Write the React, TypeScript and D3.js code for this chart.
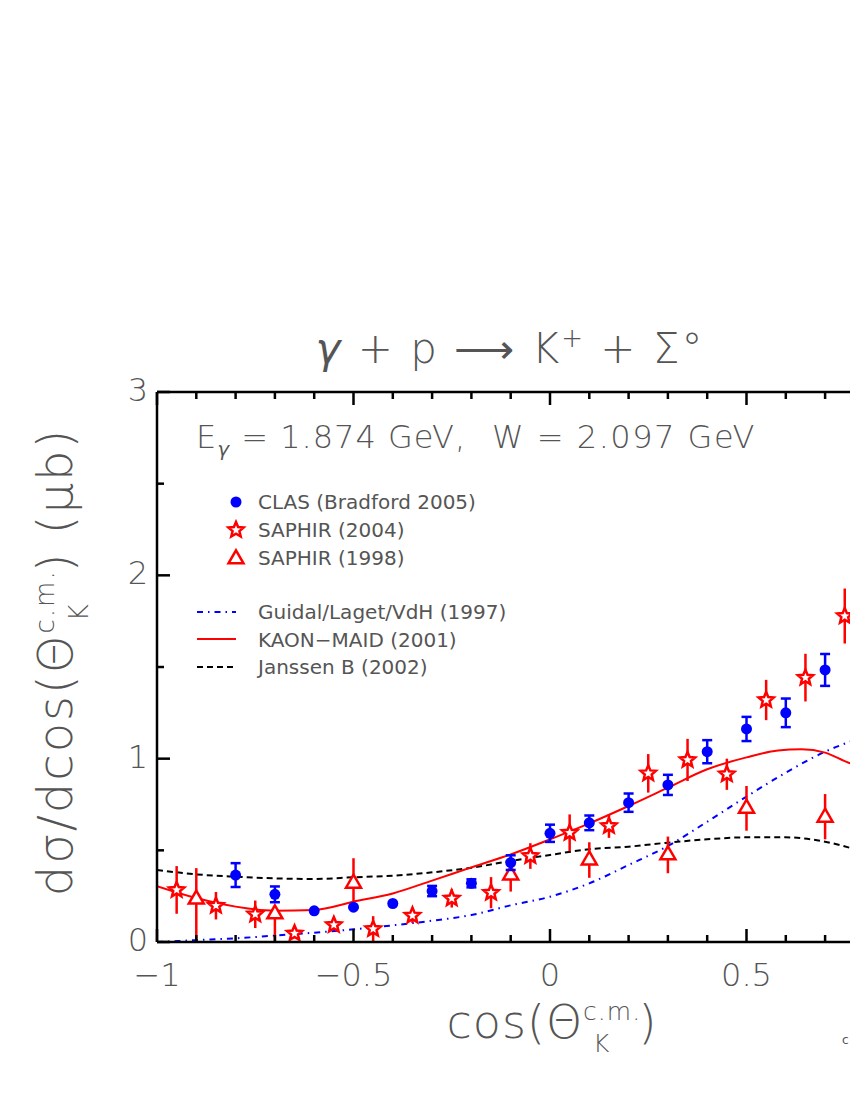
import React from "react";
import * as d3 from "d3";

// ---------- data ----------
const clasX = [-0.8, -0.7, -0.6, -0.5, -0.4, -0.3, -0.2, -0.1, 0, 0.1, 0.2, 0.3, 0.4, 0.5, 0.6, 0.7];
const clasY = [0.365, 0.26, 0.17, 0.19, 0.21, 0.278, 0.32, 0.433, 0.593, 0.65, 0.76, 0.857, 1.038, 1.162, 1.25, 1.484];
const clasErr = [0.065, 0.043, 0, 0, 0, 0.028, 0.022, 0.04, 0.047, 0.04, 0.05, 0.055, 0.063, 0.066, 0.078, 0.087];

const saphir04X = [-0.95, -0.85, -0.75, -0.65, -0.55, -0.45, -0.35, -0.25, -0.15, -0.05, 0.05, 0.15, 0.25, 0.35, 0.45, 0.55, 0.65, 0.75];
const saphir04Y = [0.284, 0.198, 0.151, 0.047, 0.093, 0.071, 0.144, 0.238, 0.269, 0.469, 0.596, 0.633, 0.92, 0.993, 0.915, 1.32, 1.442, 1.778];
const saphir04Err = [0.13, 0.075, 0.075, 0.02, 0.02, 0.07, 0.04, 0.05, 0.085, 0.07, 0.1, 0.065, 0.105, 0.115, 0.085, 0.11, 0.13, 0.15];

const saphir98X = [-0.9, -0.7, -0.5, -0.1, 0.1, 0.3, 0.5, 0.7];
const saphir98Y = [0.233, 0.153, 0.32, 0.365, 0.447, 0.475, 0.729, 0.68];
const saphir98ErrHi = [0.17, 0.02, 0.137, 0.02, 0.097, 0.1, 0.122, 0.127];
const saphir98ErrLo = [0.22, 0.153, 0.127, 0.09, 0.097, 0.1, 0.122, 0.12];

const maidX = [-1, -0.9, -0.8, -0.7, -0.6, -0.5, -0.4, -0.3, -0.2, -0.1, 0, 0.1, 0.2, 0.3, 0.4, 0.5, 0.58, 0.64, 0.7, 0.76, 0.8];
const maidY = [0.305, 0.24, 0.193, 0.171, 0.175, 0.22, 0.265, 0.335, 0.407, 0.478, 0.56, 0.647, 0.742, 0.842, 0.942, 1.007, 1.044, 1.051, 1.033, 0.978, 0.955];

const janssenX = [-1, -0.9, -0.8, -0.7, -0.6, -0.5, -0.4, -0.3, -0.2, -0.1, 0, 0.1, 0.2, 0.3, 0.4, 0.5, 0.6, 0.7, 0.8];
const janssenY = [0.393, 0.369, 0.356, 0.347, 0.344, 0.353, 0.362, 0.38, 0.405, 0.442, 0.475, 0.506, 0.52, 0.542, 0.56, 0.571, 0.571, 0.547, 0.49];

const guidalX = [-1, -0.9, -0.8, -0.7, -0.6, -0.5, -0.4, -0.3, -0.2, -0.1, 0, 0.1, 0.2, 0.3, 0.4, 0.5, 0.6, 0.7, 0.8];
const guidalY = [0.0, 0.01, 0.02, 0.035, 0.051, 0.069, 0.091, 0.116, 0.147, 0.2, 0.247, 0.32, 0.42, 0.524, 0.656, 0.793, 0.924, 1.038, 1.12];

const xTickLabels = ["−1", "−0.5", "0", "0.5"];
const xTickValues = [-1, -0.5, 0, 0.5];
const yTickValues = [0, 1, 2, 3];

const legendMarkers = ["CLAS (Bradford 2005)", "SAPHIR (2004)", "SAPHIR (1998)"];
const legendLines = ["Guidal/Laget/VdH (1997)", "KAON−MAID (2001)", "Janssen B (2002)"];

// ---------- layout ----------
const W = 850, H = 1100;
const L = 157, R = 943, T = 392, B = 942;
const x = d3.scaleLinear().domain([-1, 1]).range([L, R]);
const y = d3.scaleLinear().domain([0, 3]).range([B, T]);

const TXT = "#555";
const FONT = "'DejaVu Sans', sans-serif";

function starPath(cx: number, cy: number, ro: number, ri: number) {
  const pts: [number, number][] = [];
  for (let i = 0; i < 10; i++) {
    const r = i % 2 === 0 ? ro : ri;
    const a = -Math.PI / 2 + (i * Math.PI) / 5;
    pts.push([cx + r * Math.cos(a), cy + r * Math.sin(a)]);
  }
  return "M" + pts.map((p) => p.join(",")).join("L") + "Z";
}
function triPath(cx: number, cy: number, s: number) {
  const h = s * 0.866;
  return `M${cx},${cy - (2 * h) / 3}L${cx + s / 2},${cy + h / 3}L${cx - s / 2},${cy + h / 3}Z`;
}

export default function App() {
  const line = d3.line<[number, number]>().x((d) => x(d[0])).y((d) => y(d[1])).curve(d3.curveMonotoneX);
  const maidPath = line(maidX.map((v, i) => [v, maidY[i]]))!;
  const janPath = line(janssenX.map((v, i) => [v, janssenY[i]]))!;
  const guiPath = line(guidalX.map((v, i) => [v, guidalY[i]]))!;

  const minorX = d3.range(-10, 11).map((i) => i / 10);
  const minorY = d3.range(0, 7).map((i) => i / 2);

  return (
    <svg width={W} height={H} style={{ position: "absolute", left: 0, top: 0, background: "#fff" }} fontFamily={FONT}>
      <defs>
        <clipPath id="plot">
          <rect x={L} y={T} width={R - L} height={B - T} />
        </clipPath>
      </defs>

      {/* title */}
      <text x={510} y={363} fontSize={42} fill={TXT} textAnchor="middle" fontWeight={200} letterSpacing={2}>
        <tspan fontStyle="italic" fontWeight={200}>γ</tspan>
        <tspan> + p ⟶ K</tspan>
        <tspan dy={-16} fontSize={26}>+</tspan>
        <tspan dy={16}> + Σ°</tspan>
      </text>

      {/* curves */}
      <g clipPath="url(#plot)" fill="none" strokeWidth={2}>
        <path d={guiPath} stroke="#0000ff" strokeDasharray="6,5,1.5,5" />
        <path d={janPath} stroke="#000" strokeDasharray="6,4" />
        <path d={maidPath} stroke="#ff0000" />
      </g>

      {/* data */}
      <g clipPath="url(#plot)">
        {saphir98X.map((v, i) => (
          <g key={"t" + i}>
            <line x1={x(v)} x2={x(v)} y1={y(saphir98Y[i] + saphir98ErrHi[i])} y2={y(saphir98Y[i] - saphir98ErrLo[i])} stroke="#ff0000" strokeWidth={2.5} />
            <path d={triPath(x(v), y(saphir98Y[i]), 15)} fill="#fff" stroke="#ff0000" strokeWidth={2.5} />
          </g>
        ))}
        {saphir04X.map((v, i) => (
          <g key={"s" + i}>
            <line x1={x(v)} x2={x(v)} y1={y(saphir04Y[i] + saphir04Err[i])} y2={y(saphir04Y[i] - saphir04Err[i])} stroke="#ff0000" strokeWidth={2.5} />
            <path d={starPath(x(v), y(saphir04Y[i]), 8, 3.6)} fill="#fff" stroke="#ff0000" strokeWidth={2.5} />
          </g>
        ))}
        {clasX.map((v, i) => {
          const cx = x(v), cy = y(clasY[i]);
          const e = clasErr[i];
          return (
            <g key={"c" + i} stroke="#0000ff" strokeWidth={2.5}>
              {e > 0 && (
                <>
                  <line x1={cx} x2={cx} y1={y(clasY[i] + e)} y2={y(clasY[i] - e)} />
                  <line x1={cx - 5} x2={cx + 5} y1={y(clasY[i] + e)} y2={y(clasY[i] + e)} />
                  <line x1={cx - 5} x2={cx + 5} y1={y(clasY[i] - e)} y2={y(clasY[i] - e)} />
                </>
              )}
              <circle cx={cx} cy={cy} r={5.5} fill="#0000ff" stroke="none" />
            </g>
          );
        })}
      </g>

      {/* axes frame */}
      <g stroke="#000" strokeWidth={2.5} fill="none">
        <line x1={L} x2={R} y1={B} y2={B} />
        <line x1={L} x2={R} y1={T} y2={T} />
        <line x1={L} x2={L} y1={T} y2={B} />
        <line x1={R} x2={R} y1={T} y2={B} />
        {minorX.map((v) => {
          const major = Math.abs(v * 2 - Math.round(v * 2)) < 1e-6;
          const len = major ? 13 : 7;
          return (
            <g key={"xt" + v}>
              <line x1={x(v)} x2={x(v)} y1={B} y2={B - len} />
              <line x1={x(v)} x2={x(v)} y1={T} y2={T + len} />
            </g>
          );
        })}
        {minorY.map((v) => {
          const major = Math.abs(v - Math.round(v)) < 1e-6;
          const len = major ? 13 : 7;
          return (
            <g key={"yt" + v}>
              <line x1={L} x2={L + len} y1={y(v)} y2={y(v)} />
              <line x1={R} x2={R - len} y1={y(v)} y2={y(v)} />
            </g>
          );
        })}
      </g>

      {/* tick labels */}
      <g fill={TXT} fontSize={32} fontWeight={200}>
        {xTickValues.map((v, i) => (
          <text key={"xl" + i} x={x(v)} y={986} textAnchor="middle">{xTickLabels[i]}</text>
        ))}
        {yTickValues.map((v) => (
          <text key={"yl" + v} x={148} y={y(v) + 9} textAnchor="end">{String(v)}</text>
        ))}
      </g>

      {/* axis titles */}
      <text x={552} y={1038} fontSize={46} fill={TXT} textAnchor="middle" fontWeight={200} letterSpacing={1}>
        <tspan>cos(Θ</tspan>
        <tspan dy={-18} fontSize={25}>c.m.</tspan>
        <tspan dx={-48} dy={32} fontSize={25}>K</tspan>
        <tspan dx={28} dy={-14}>)</tspan>
      </text>
      <text transform="translate(72,662) rotate(-90)" fontSize={48} fill={TXT} textAnchor="middle" fontWeight={200} letterSpacing={2}>
        <tspan>dσ/dcos(Θ</tspan>
        <tspan dy={-18} fontSize={26}>c.m.</tspan>
        <tspan dx={-52} dy={34} fontSize={26}>K</tspan>
        <tspan dx={30} dy={-16}>) (μb)</tspan>
      </text>

      {/* annotation */}
      <text x={196} y={448} fontSize={32} fill={TXT} fontWeight={200} letterSpacing={1}>
        <tspan>E</tspan>
        <tspan dy={8} fontSize={20} fontStyle="italic">γ</tspan>
        <tspan dy={-8}> = 1.874 GeV,</tspan>
      </text>
      <text x={492} y={448} fontSize={32} fill={TXT} fontWeight={200} letterSpacing={1.5}>W = 2.097 GeV</text>

      {/* legend */}
      <g fontSize={20} fill={TXT}>
        <circle cx={236} cy={502} r={5.5} fill="#0000ff" />
        <path d={starPath(236, 530, 8, 3.6)} fill="#fff" stroke="#ff0000" strokeWidth={2.5} />
        <path d={triPath(236, 559, 15)} fill="#fff" stroke="#ff0000" strokeWidth={2.5} />
        {legendMarkers.map((t, i) => (
          <text key={"lm" + i} x={258} y={509 + i * 28}>{t}</text>
        ))}
        <line x1={197} x2={236} y1={612} y2={612} stroke="#0000ff" strokeWidth={2} strokeDasharray="6,5,1.5,5" />
        <line x1={197} x2={236} y1={639} y2={639} stroke="#ff0000" strokeWidth={2} />
        <line x1={197} x2={236} y1={667} y2={667} stroke="#000" strokeWidth={2} strokeDasharray="6,4" />
        {legendLines.map((t, i) => (
          <text key={"ll" + i} x={258} y={619 + i * 27.5}>{t}</text>
        ))}
      </g>
      <text x={842} y={1044} fontSize={12} fill={TXT}>c</text>
    </svg>
  );
}
